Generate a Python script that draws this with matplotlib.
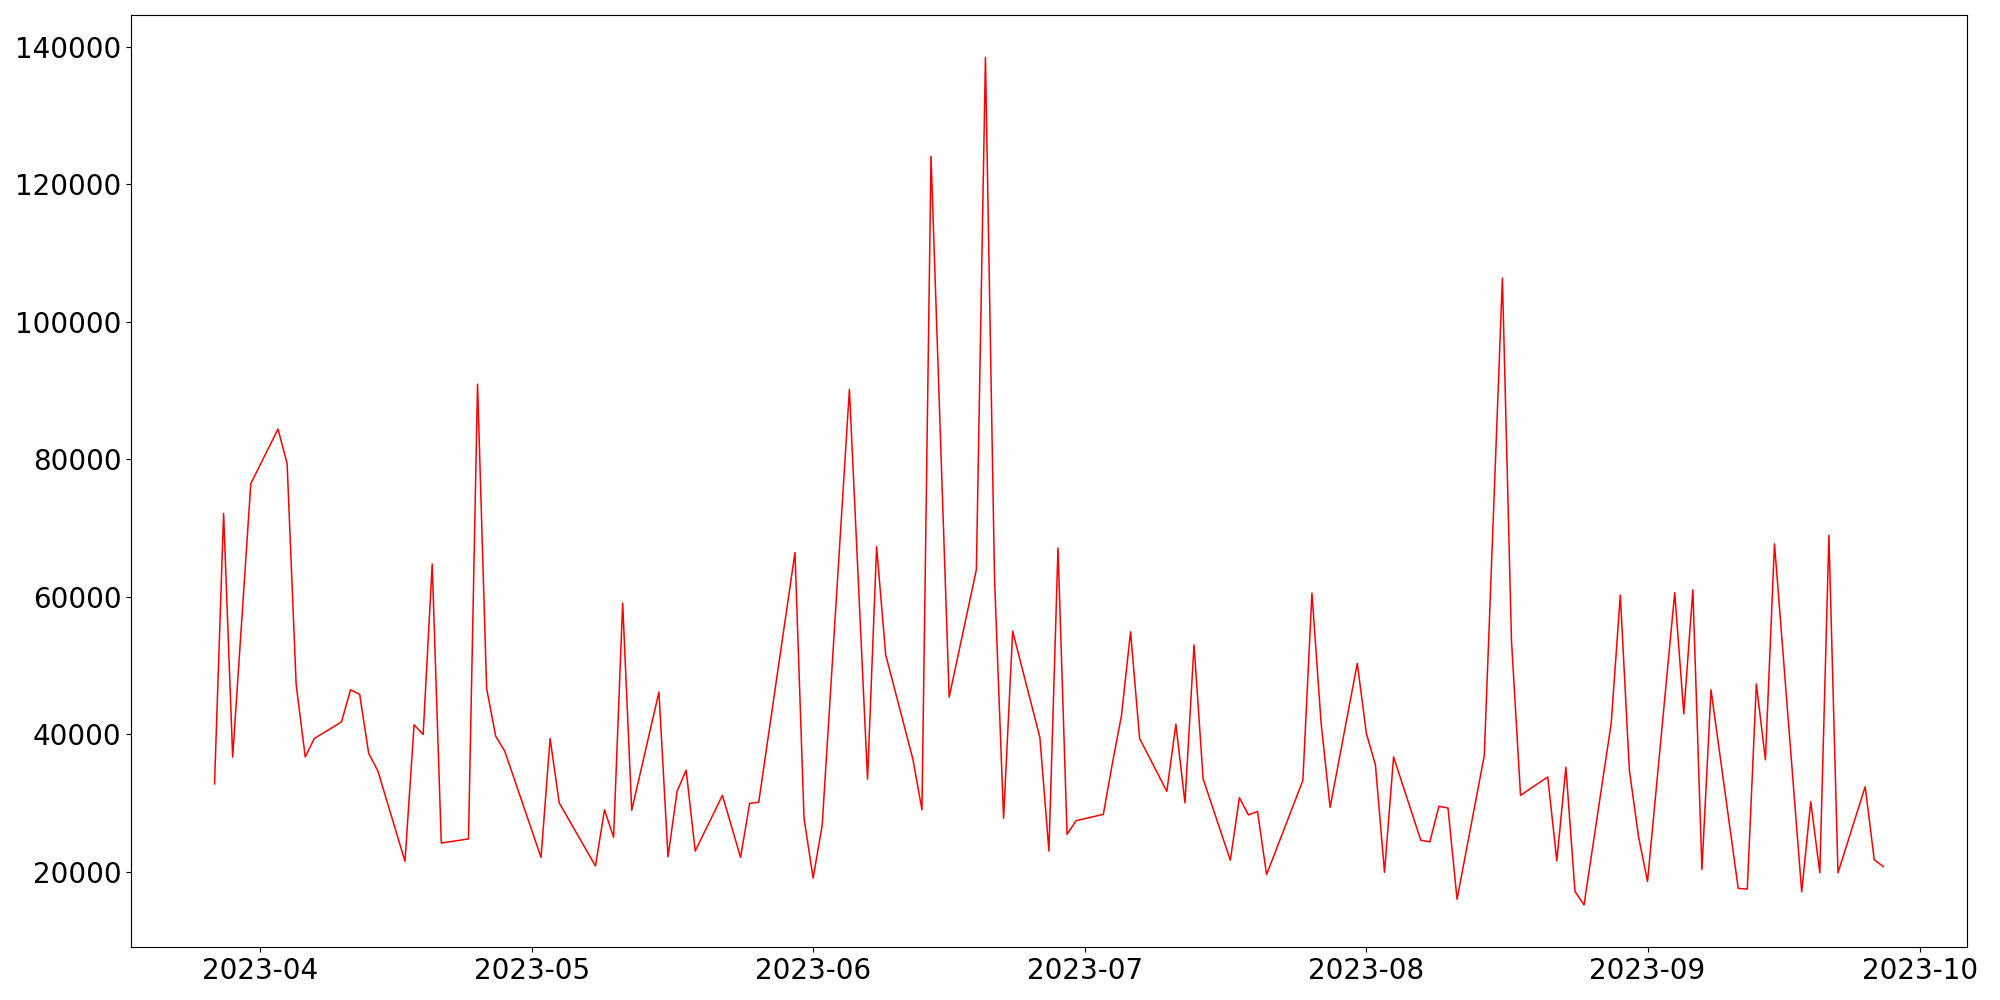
import matplotlib
matplotlib.use("Agg")
import matplotlib.pyplot as plt
import pandas as pd

dates = [
    "2023-03-27", "2023-03-28", "2023-03-29", "2023-03-31", "2023-04-03", "2023-04-04",
    "2023-04-05", "2023-04-06", "2023-04-07", "2023-04-10", "2023-04-11", "2023-04-12",
    "2023-04-13", "2023-04-14", "2023-04-17", "2023-04-18", "2023-04-19", "2023-04-20",
    "2023-04-21", "2023-04-24", "2023-04-25", "2023-04-26", "2023-04-27", "2023-04-28",
    "2023-05-02", "2023-05-03", "2023-05-04", "2023-05-08", "2023-05-09", "2023-05-10",
    "2023-05-11", "2023-05-12", "2023-05-15", "2023-05-16", "2023-05-17", "2023-05-18",
    "2023-05-19", "2023-05-22", "2023-05-24", "2023-05-25", "2023-05-26", "2023-05-30",
    "2023-05-31", "2023-06-01", "2023-06-02", "2023-06-05", "2023-06-07", "2023-06-08",
    "2023-06-09", "2023-06-12", "2023-06-13", "2023-06-14", "2023-06-16", "2023-06-19",
    "2023-06-20", "2023-06-21", "2023-06-22", "2023-06-23", "2023-06-26", "2023-06-27",
    "2023-06-28", "2023-06-29", "2023-06-30", "2023-07-03", "2023-07-04", "2023-07-05",
    "2023-07-06", "2023-07-07", "2023-07-10", "2023-07-11", "2023-07-12", "2023-07-13",
    "2023-07-14", "2023-07-17", "2023-07-18", "2023-07-19", "2023-07-20", "2023-07-21",
    "2023-07-25", "2023-07-26", "2023-07-27", "2023-07-28", "2023-07-31", "2023-08-01",
    "2023-08-02", "2023-08-03", "2023-08-04", "2023-08-07", "2023-08-08", "2023-08-09",
    "2023-08-10", "2023-08-11", "2023-08-14", "2023-08-16", "2023-08-17", "2023-08-18",
    "2023-08-21", "2023-08-22", "2023-08-23", "2023-08-24", "2023-08-25", "2023-08-28",
    "2023-08-29", "2023-08-30", "2023-08-31", "2023-09-01", "2023-09-04", "2023-09-05",
    "2023-09-06", "2023-09-07", "2023-09-08", "2023-09-11", "2023-09-12", "2023-09-13",
    "2023-09-14", "2023-09-15", "2023-09-18", "2023-09-19", "2023-09-20", "2023-09-21",
    "2023-09-22", "2023-09-25", "2023-09-26", "2023-09-27",
]

values = [
    32800, 72100, 36700, 76450, 84380, 79380,
    47240, 36710, 39390, 41810, 46480, 45810,
    37220, 34720, 21530, 41390, 39970, 64760,
    24190, 24790, 90900, 46660, 39720, 37550,
    22110, 39390, 30040, 20860, 29030, 25030,
    59090, 28960, 46150, 22200, 31710, 34790,
    23030, 31130, 22110, 29960, 30120, 66430,
    27780, 19100, 26780, 90140, 33470, 67280,
    51570, 36390, 29030, 124040, 45410, 63930,
    138420, 62680, 27780, 55000, 39560, 23030,
    67100, 25460, 27450, 28360, 35810, 42730,
    54910, 39390, 31710, 41480, 30040, 53000,
    33540, 21690, 30790, 28290, 28780, 19610,
    33290, 60520, 41810, 29370, 50320, 40140,
    35550, 19940, 36710, 24610, 24360, 29540,
    29290, 16020, 36890, 106340, 53670, 31130,
    33800, 21600, 35210, 17180, 15200, 41640,
    60250, 34790, 25190, 18610, 60590, 42980,
    61010, 20350, 46480, 17600, 17500, 47310,
    36300, 67690, 17090, 30210, 19860, 68940,
    19860, 32380, 21780, 20770,
]

x = pd.to_datetime(dates)

fig, ax = plt.subplots(figsize=(20, 10), dpi=100)
ax.plot(x, values, color="red", linewidth=1.1)
ax.tick_params(axis="both", labelsize=20)
fig.tight_layout()
fig.savefig("out.png", dpi=100)
